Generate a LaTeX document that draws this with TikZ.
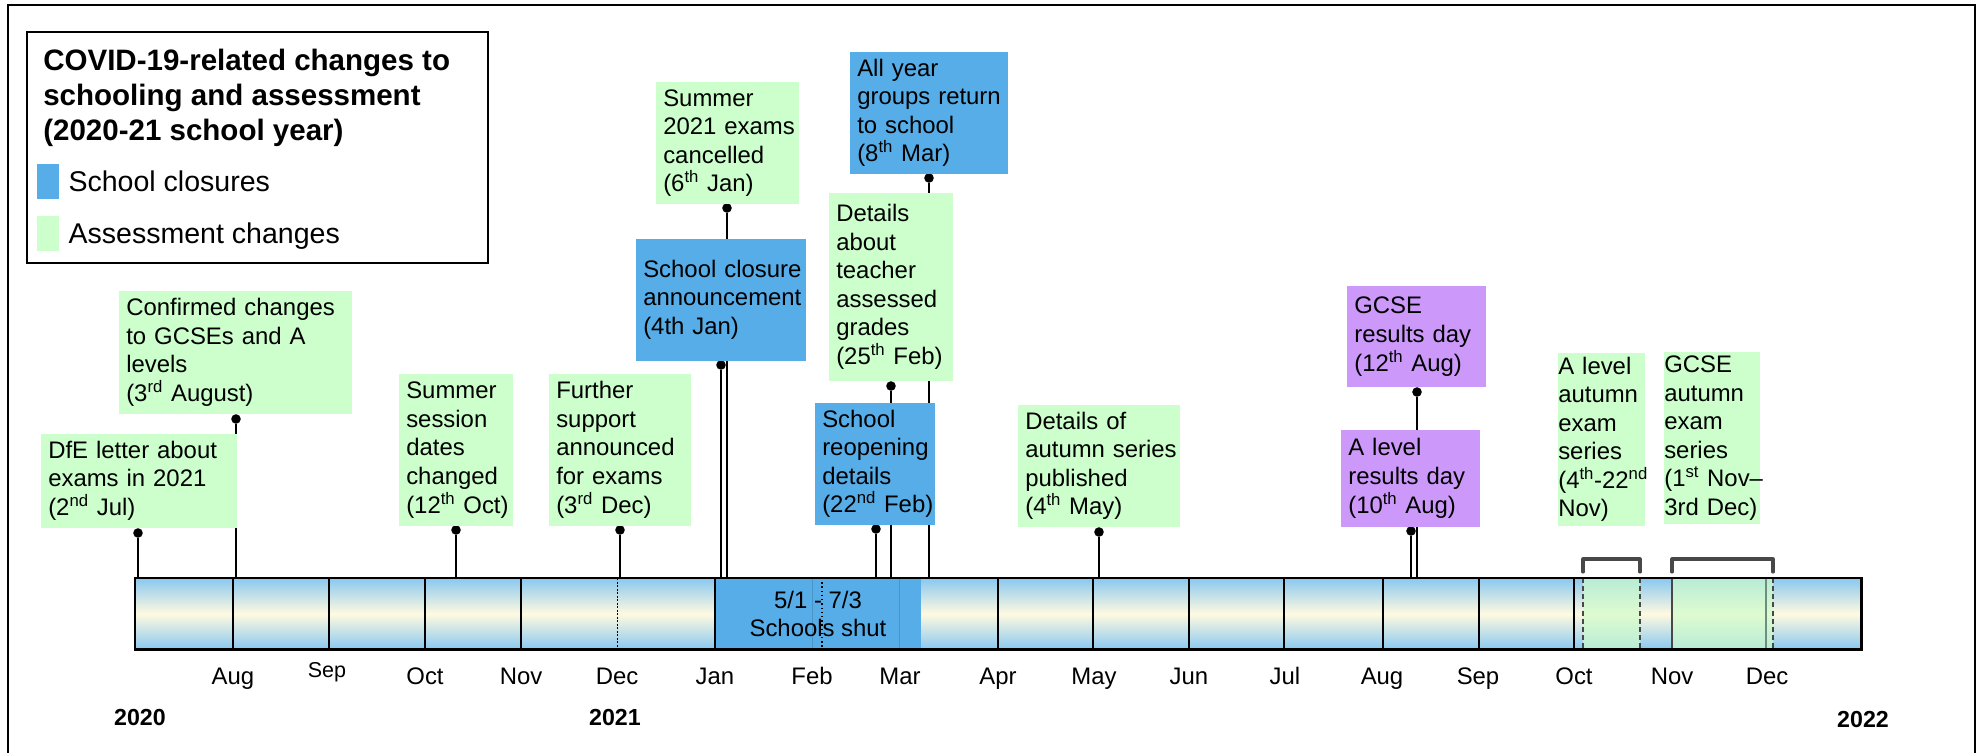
\documentclass[tikz,border=0pt]{standalone}
\usepackage{fontspec}
\setmainfont{Liberation Sans}
\usetikzlibrary{positioning}

\definecolor{closureblue}{RGB}{86,173,232}
\definecolor{assessgreen}{RGB}{204,255,204}
\definecolor{resultpurple}{RGB}{204,153,250}
\definecolor{barblue}{RGB}{138,200,240}
\definecolor{barcream}{RGB}{255,250,224}
\definecolor{examgreen}{RGB}{184,236,214}
\definecolor{examgreenmid}{RGB}{222,251,208}
\definecolor{dashgray}{RGB}{72,72,72}

\newcommand{\boxfont}{\fontsize{17}{20.3}\selectfont}
\newcommand{\legendheadfont}{\fontsize{21}{24.9}\selectfont\bfseries}
\newcommand{\legendkeyfont}{\fontsize{20.3}{24}\selectfont}
\newcommand{\yearfont}{\fontsize{16.5}{19}\selectfont\bfseries}

% no hyphenation inside the boxes
\hyphenpenalty=10000
\exhyphenpenalty=10000

\begin{document}
\begin{tikzpicture}[
    x=0.25mm, y=-0.25mm,
    frameline/.style={line width=1.4pt},
    eventbox/.style={rectangle, anchor=north west, inner xsep=1.75mm, inner ysep=0pt, align=left, font=\boxfont, execute at begin node=\strut, execute at end node=\strut},
    greenbox/.style={eventbox, fill=assessgreen},
    bluebox/.style={eventbox, fill=closureblue},
    purplebox/.style={eventbox, fill=resultpurple},
    boxsize/.style 2 args={text width=#1*0.25mm-3.5mm, minimum height=#2*0.25mm},
    pindot/.style={circle, fill=black, inner sep=0pt, minimum size=6.8pt},
    stem/.style={line width=1.1pt},
    timeline/.style={rectangle, inner sep=0pt, anchor=north west, top color=barblue, bottom color=barblue, middle color=barcream},
    monthtick/.style={line width=1.1pt},
    examdash/.style={line width=1.4pt, draw=dashgray, dash pattern=on 3.5pt off 2.3pt},
    bracketline/.style={line width=2.2pt, draw=dashgray, line cap=round, line join=round},
    legendkey/.style={rectangle, inner sep=0pt, minimum width=5.5mm, minimum height=8.75mm},
    keytext/.style={font=\legendkeyfont, inner sep=0pt, text depth=0pt},
    monthlabel/.style={anchor=base, font=\boxfont},
    yearlabel/.style={anchor=base, font=\yearfont}
]
\useasboundingbox (0,0) rectangle (1982,753);
\clip (0,0) rectangle (1982,753);

% outer frame (runs off the bottom)
\draw[frameline] (8,780) -- (8,5) -- (1975,5) -- (1975,780);

% LEGEND
\draw[frameline] (27,32) rectangle (488,263);
\node[anchor=north west, inner sep=0pt, align=left, font=\legendheadfont] (legend_title) at (43,48.5)
    {COVID-19-related changes to\\schooling and assessment\\(2020-21 school year)};
\node[legendkey, fill=closureblue] (key_closure) at (48,181.5) {};
\node[legendkey, fill=assessgreen, below=4mm of key_closure] (key_assess) {};
\node[keytext, right=2.25mm of key_closure] (key_closure_text) {School closures};
\node[keytext, right=2.25mm of key_assess] (key_assess_text) {Assessment changes};

% TIMELINE BAR (Jul 2020 - Dec 2021)
\node[timeline, minimum width=431.5mm, minimum height=17.75mm] (timeline) at (135,578) {};

% schools shut 5/1 - 7/3
\fill[closureblue] (715,578) rectangle (921,649);
\draw[line width=0.6pt, draw=closureblue!85!black] (812,578) -- (812,649) (899,578) -- (899,649);
\draw[line width=1pt, dotted] (822,578) -- (822,649);
\node[font=\boxfont, align=center] (shut_label) at (818,614) {5/1 - 7/3\\Schools shut};

% autumn exam series
\shade[top color=examgreen, bottom color=examgreen, middle color=examgreenmid] (1583,578) rectangle (1640,649);
\shade[top color=examgreen, bottom color=examgreen, middle color=examgreenmid] (1672,578) rectangle (1773,649);

% month boundaries
\draw[monthtick] (233,578) -- (233,649) (329,578) -- (329,649) (425,578) -- (425,649)
    (521,578) -- (521,649) (715,578) -- (715,649) (998,578) -- (998,649)
    (1093,578) -- (1093,649) (1189,578) -- (1189,649) (1284,578) -- (1284,649)
    (1383,578) -- (1383,649) (1479,578) -- (1479,649) (1574,578) -- (1574,649);
\draw[line width=0.6pt, dash pattern=on 1.5pt off 1pt] (617,578) -- (617,649);
\draw[line width=1pt, draw=dashgray] (1672,578) -- (1672,649);
\draw[line width=1.1pt, draw=examgreen!60!black] (1766,578) -- (1766,649);
\draw[examdash] (1583,578) -- (1583,649) (1640,578) -- (1640,649) (1773,578) -- (1773,649);
\draw[line width=1.6pt] (timeline.north west) rectangle (timeline.south east);

% brackets over the exam series
\draw[bracketline] (1583,572) |- (1640,559) -- (1640,572);
\draw[bracketline] (1672,572) |- (1773,559) -- (1773,572);

% PINS
\node[pindot] (dfe_dot) at (138,533) {};
\node[pindot] (confirmed_dot) at (236,419) {};
\node[pindot] (session_dot) at (456,530) {};
\node[pindot] (support_dot) at (620,530) {};
\node[pindot] (closure_dot) at (721,365) {};
\node[pindot] (cancelled_dot) at (727,208) {};
\node[pindot] (reopening_dot) at (876,529) {};
\node[pindot] (teacher_dot) at (891,386) {};
\node[pindot] (return_dot) at (929,178) {};
\node[pindot] (autumn_dot) at (1099,532) {};
\node[pindot] (alevel_dot) at (1411,531) {};
\node[pindot] (gcse_dot) at (1417,392) {};

\draw[stem] (dfe_dot) -- (dfe_dot |- timeline.north);
\draw[stem] (confirmed_dot) -- (confirmed_dot |- timeline.north);
\draw[stem] (session_dot) -- (session_dot |- timeline.north);
\draw[stem] (support_dot) -- (support_dot |- timeline.north);
\draw[stem] (closure_dot) -- (closure_dot |- timeline.north);
\draw[stem] (cancelled_dot) -- (cancelled_dot |- timeline.north);
\draw[stem] (reopening_dot) -- (reopening_dot |- timeline.north);
\draw[stem] (teacher_dot) -- (teacher_dot |- timeline.north);
\draw[stem] (return_dot) -- (return_dot |- timeline.north);
\draw[stem] (autumn_dot) -- (autumn_dot |- timeline.north);
\draw[stem] (alevel_dot) -- (alevel_dot |- timeline.north);
\draw[stem] (gcse_dot) -- (gcse_dot |- timeline.north);

% EVENTS
% 2020
\node[greenbox, boxsize={196}{94}] (dfe_letter) at (41,434)
    {DfE~letter~about\\exams~in~2021\\(2\textsuperscript{nd}~Jul)};
\node[greenbox, boxsize={233}{123}] (confirmed_changes) at (119,291)
    {Confirmed~changes\\to~GCSEs~and~A\\levels\\(3\textsuperscript{rd}~August)};
\node[greenbox, boxsize={114}{152}] (summer_session) at (399,374)
    {Summer\\session\\dates\\changed\\(12\textsuperscript{th}~Oct)};
\node[greenbox, boxsize={142}{152}] (further_support) at (549,374)
    {Further\\support\\announced\\for~exams\\(3\textsuperscript{rd}~Dec)};

% 2021, closures
\node[bluebox, boxsize={170}{122}] (closure_announcement) at (636,239)
    {School~closure\\announcement\\(4th~Jan)};
\node[greenbox, boxsize={143}{122}] (exams_cancelled) at (656,82)
    {Summer\\2021~exams\\cancelled\\(6\textsuperscript{th}~Jan)};
\node[bluebox, boxsize={120}{122}] (reopening_details) at (815,403)
    {School\\reopening\\details\\(22\textsuperscript{nd}~Feb)};
\node[greenbox, boxsize={124}{188}] (teacher_grades) at (829,193)
    {Details\\about\\teacher\\assessed\\grades\\(25\textsuperscript{th}~Feb)};
\node[bluebox, boxsize={158}{122}] (all_return) at (850,52)
    {All~year\\groups~return\\to~school\\(8\textsuperscript{th}~Mar)};

% 2021, results and autumn series
\node[greenbox, boxsize={162}{122}] (autumn_details) at (1018,405)
    {Details~of\\autumn~series\\published\\(4\textsuperscript{th}~May)};
\node[purplebox, boxsize={139}{97}] (alevel_results) at (1341,430)
    {A~level\\results~day\\(10\textsuperscript{th}~Aug)};
\node[purplebox, boxsize={139}{101}] (gcse_results) at (1347,286)
    {GCSE\\results~day\\(12\textsuperscript{th}~Aug)};
\node[greenbox, inner xsep=0pt, text width=87*0.25mm, minimum height=173*0.25mm] (alevel_autumn) at (1558,353)
    {A~level\\autumn\\exam\\series\\(4\textsuperscript{th}-22\textsuperscript{nd}\\Nov)};
\node[greenbox, inner xsep=0pt, text width=96*0.25mm, minimum height=172*0.25mm] (gcse_autumn) at (1664,352)
    {GCSE\\autumn\\exam\\series\\(1\textsuperscript{st}~Nov--\\3rd~Dec)};

% MONTHS
\node[monthlabel] (lbl_aug20) at (233,684) {Aug};
\node[monthlabel, font=\fontsize{15.3}{18}\selectfont] (lbl_sep20) at (327,677) {Sep};
\node[monthlabel] (lbl_oct20) at (425,684) {Oct};
\node[monthlabel] (lbl_nov20) at (521,684) {Nov};
\node[monthlabel] (lbl_dec20) at (617,684) {Dec};
\node[monthlabel] (lbl_jan21) at (715,684) {Jan};
\node[monthlabel] (lbl_feb21) at (812,684) {Feb};
\node[monthlabel] (lbl_mar21) at (900,684) {Mar};
\node[monthlabel] (lbl_apr21) at (998,684) {Apr};
\node[monthlabel] (lbl_may21) at (1094,684) {May};
\node[monthlabel] (lbl_jun21) at (1189,684) {Jun};
\node[monthlabel] (lbl_jul21) at (1285,684) {Jul};
\node[monthlabel] (lbl_aug21) at (1382,684) {Aug};
\node[monthlabel] (lbl_sep21) at (1478,684) {Sep};
\node[monthlabel] (lbl_oct21) at (1574,684) {Oct};
\node[monthlabel] (lbl_nov21) at (1672,684) {Nov};
\node[monthlabel] (lbl_dec21) at (1767,684) {Dec};

% YEARS
\node[yearlabel] (yr_2020) at (140,725) {2020};
\node[yearlabel] (yr_2021) at (615,725) {2021};
\node[yearlabel] (yr_2022) at (1863,727) {2022};

\end{tikzpicture}
\end{document}
